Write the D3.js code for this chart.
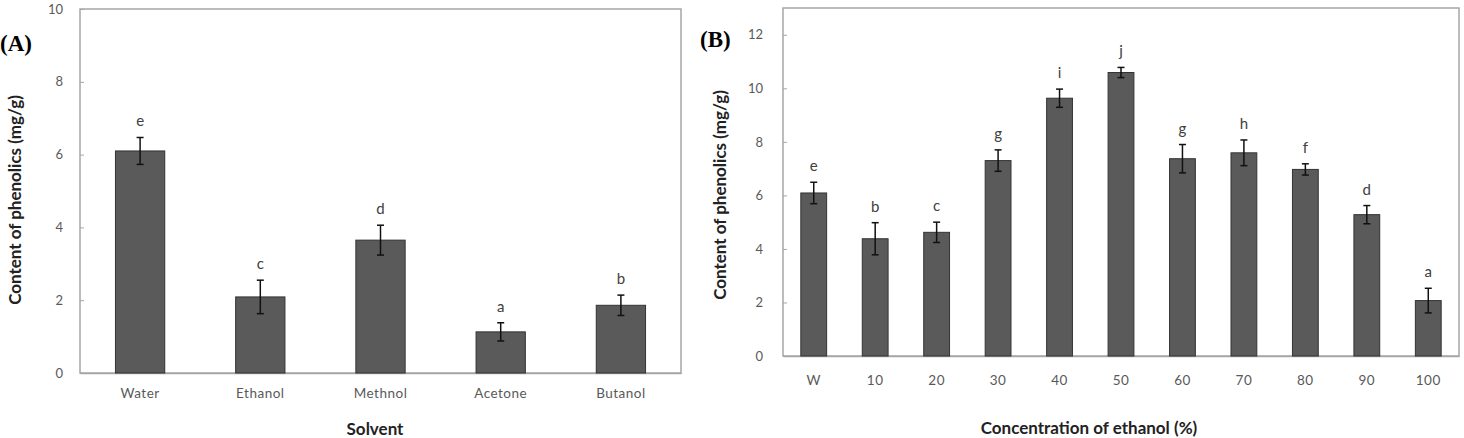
<!DOCTYPE html>
<html lang="en">
<head>
    <meta charset="UTF-8">
    <script src="https://d3js.org/d3.v7.min.js"></script>
    <style>
        body { margin: 0; background: #fff; }
        text { font-family: Lato, "Open Sans", sans-serif; }
    </style>
</head>
<body>
    <svg id="chart" width="1464" height="438"></svg>

    <script>
        // Panel A: solvent type
        const solvents = ["Water", "Ethanol", "Methnol", "Acetone", "Butanol"];
        const solventMeans = [6.1, 2.09, 3.65, 1.13, 1.86];
        const solventErrors = [0.37, 0.46, 0.41, 0.25, 0.28];
        const solventLetters = ["e", "c", "d", "a", "b"];
        const solventTicks = [0, 2, 4, 6, 8, 10];

        // Panel B: ethanol concentration
        const concentrations = ["W", "10", "20", "30", "40", "50", "60", "70", "80", "90", "100"];
        const concMeans = [6.09, 4.38, 4.62, 7.3, 9.63, 10.59, 7.37, 7.59, 6.97, 5.28, 2.07];
        const concErrors = [0.4, 0.6, 0.38, 0.4, 0.34, 0.19, 0.53, 0.48, 0.21, 0.34, 0.46];
        const concLetters = ["e", "b", "c", "g", "i", "j", "g", "h", "f", "d", "a"];
        const concTicks = [0, 2, 4, 6, 8, 10, 12];

        const svg = d3.select("#chart");

        function drawPanel(opt) {
            const g = svg.append("g");
            const x = d3.scaleBand()
                .domain(opt.cats)
                .range([opt.left, opt.right])
                .paddingInner(opt.pad)
                .paddingOuter(opt.pad / 2);
            const y = d3.scaleLinear()
                .domain([0, opt.ymax])
                .range([opt.bottom, opt.top]);

            const rows = opt.cats.map((c, i) => ({
                cat: c, v: opt.means[i], e: opt.errs[i], l: opt.letters[i]
            }));

            // frame
            g.append("rect")
                .attr("x", opt.left).attr("y", opt.top)
                .attr("width", opt.right - opt.left)
                .attr("height", opt.bottom - opt.top)
                .attr("fill", "none")
                .attr("stroke", "#a6a6a6")
                .attr("stroke-width", 1.5);

            // y axis (inner ticks)
            const yAxis = g.append("g")
                .attr("transform", `translate(${opt.left},0)`)
                .call(d3.axisRight(y).tickValues(opt.ticks).tickSize(4).tickFormat(d3.format("d")));
            yAxis.select(".domain").remove();
            yAxis.selectAll(".tick line").attr("stroke", "#a6a6a6");
            yAxis.selectAll(".tick text")
                .attr("x", -opt.labelGap)
                .attr("text-anchor", "end")
                .attr("fill", "#595959")
                .style("font-size", "13px");

            // x axis labels
            const xAxis = g.append("g")
                .attr("transform", `translate(0,${opt.bottom})`)
                .call(d3.axisBottom(x).tickSize(0).tickPadding(opt.xLabelPad));
            xAxis.select(".domain").attr("stroke", "#a6a6a6").attr("stroke-width", 1.5);
            xAxis.selectAll(".tick text")
                .attr("fill", "#595959")
                .style("font-size", "13.5px")
                .style("letter-spacing", "0.5px");

            // bars
            g.selectAll(".bar")
                .data(rows)
                .enter().append("rect")
                .attr("class", "bar")
                .attr("x", d => x(d.cat))
                .attr("y", d => y(d.v))
                .attr("width", x.bandwidth())
                .attr("height", d => y(0) - y(d.v))
                .attr("fill", "#5a5a5a")
                .attr("stroke", "#333")
                .attr("stroke-width", 1);

            // error bars
            const cap = 3.5;
            const eb = g.selectAll(".err")
                .data(rows)
                .enter().append("g")
                .attr("class", "err")
                .attr("stroke", "#111")
                .attr("stroke-width", 1.5);
            eb.append("line")
                .attr("x1", d => x(d.cat) + x.bandwidth() / 2)
                .attr("x2", d => x(d.cat) + x.bandwidth() / 2)
                .attr("y1", d => y(d.v + d.e))
                .attr("y2", d => y(d.v - d.e));
            eb.append("line")
                .attr("x1", d => x(d.cat) + x.bandwidth() / 2 - cap)
                .attr("x2", d => x(d.cat) + x.bandwidth() / 2 + cap)
                .attr("y1", d => y(d.v + d.e))
                .attr("y2", d => y(d.v + d.e));
            eb.append("line")
                .attr("x1", d => x(d.cat) + x.bandwidth() / 2 - cap)
                .attr("x2", d => x(d.cat) + x.bandwidth() / 2 + cap)
                .attr("y1", d => y(d.v - d.e))
                .attr("y2", d => y(d.v - d.e));

            // significance letters
            g.selectAll(".letter")
                .data(rows)
                .enter().append("text")
                .attr("class", "letter")
                .attr("x", d => x(d.cat) + x.bandwidth() / 2)
                .attr("y", d => y(d.v + d.e) - 11)
                .attr("text-anchor", "middle")
                .attr("fill", "#404040")
                .style("font-size", "15px")
                .text(d => d.l);

            // axis titles
            g.append("text")
                .attr("x", opt.xTitleX)
                .attr("y", opt.xTitleY)
                .attr("text-anchor", "middle")
                .attr("fill", "#222")
                .style("font-size", "17px")
                .style("font-weight", "bold")
                .text(opt.xTitle);

            g.append("text")
                .attr("transform", `translate(${opt.yTitleX},${opt.yTitleY}) rotate(-90)`)
                .attr("text-anchor", "middle")
                .attr("fill", "#222")
                .style("font-size", "17px")
                .style("font-weight", "bold")
                .text("Content of phenolics (mg/g)");

            // panel letter
            g.append("text")
                .attr("x", opt.tagX)
                .attr("y", opt.tagY)
                .attr("fill", "#000")
                .style("font-family", "'Liberation Serif', 'DejaVu Serif', serif")
                .style("font-size", "23px")
                .style("font-weight", "bold")
                .text(opt.tag);
        }

        drawPanel({
            cats: solvents, means: solventMeans, errs: solventErrors, letters: solventLetters,
            ticks: solventTicks, ymax: 10,
            left: 80, right: 681, top: 9, bottom: 373,
            pad: 0.59, labelGap: 17, xLabelPad: 15,
            xTitle: "Solvent", xTitleX: 375, xTitleY: 435,
            yTitleX: 21, yTitleY: 200,
            tag: "(A)", tagX: 0, tagY: 51
        });

        drawPanel({
            cats: concentrations, means: concMeans, errs: concErrors, letters: concLetters,
            ticks: concTicks, ymax: 13,
            left: 783, right: 1459, top: 8, bottom: 356,
            pad: 0.58, labelGap: 20, xLabelPad: 19,
            xTitle: "Concentration of ethanol (%)", xTitleX: 1089, xTitleY: 434,
            yTitleX: 726, yTitleY: 195,
            tag: "(B)", tagX: 700, tagY: 47
        });
    </script>
</body>
</html>
